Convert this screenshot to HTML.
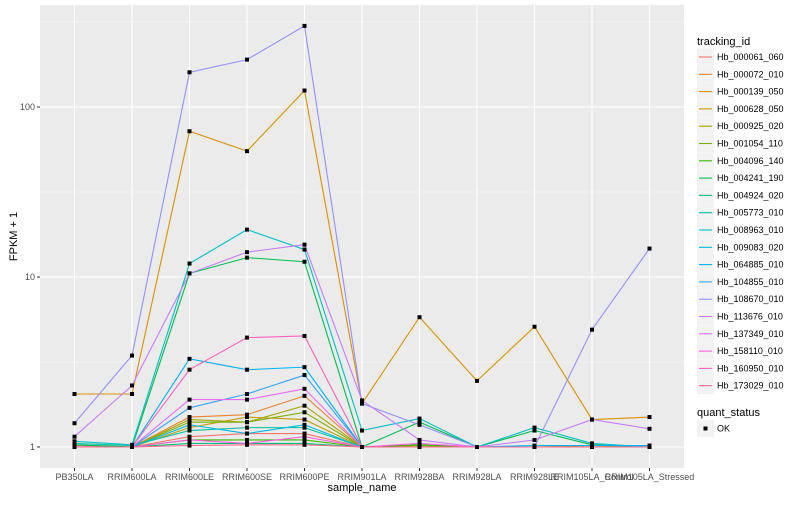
<!DOCTYPE html>
<html><head><meta charset="utf-8"><style>
body{margin:0;background:#fff;font-family:"Liberation Sans",sans-serif}
svg text{font-family:"Liberation Sans",sans-serif}
</style></head><body>
<svg id="c" width="800" height="500" xmlns="http://www.w3.org/2000/svg"></svg>
<script>
const categories=["PB350LA","RRIM600LA","RRIM600LE","RRIM600SE","RRIM600PE","RRIM901LA","RRIM928BA","RRIM928LA","RRIM928LE","RRIM105LA_Control","RRIM105LA_Stressed"];
const seriesNames=["Hb_000061_060","Hb_000072_010","Hb_000139_050","Hb_000628_050","Hb_000925_020","Hb_001054_110","Hb_004096_140","Hb_004241_190","Hb_004924_020","Hb_005773_010","Hb_008963_010","Hb_009083_020","Hb_064885_010","Hb_104855_010","Hb_108670_010","Hb_113676_010","Hb_137349_010","Hb_158110_010","Hb_160950_010","Hb_173029_010"];
const seriesColors=["#F8766D","#EA8331","#D89000","#C09B00","#A3A500","#7CAE00","#39B600","#00BB4E","#00BF7D","#00C1A3","#00BFC4","#00BAE0","#00B0F6","#35A2FF","#9590FF","#C77CFF","#E76BF3","#FA62DB","#FF62BC","#FF6C90"];
const s000061=[1.02,1.0,1.15,1.2,1.2,1.0,1.0,1.0,1.0,1.0,1.0];
const s000072=[1.0,1.0,1.5,1.55,2.0,1.0,1.02,1.0,1.0,1.0,1.0];
const s000139=[2.05,2.05,72,55,125,1.8,5.8,2.45,5.1,1.45,1.5];
const s000628=[1.0,1.0,1.3,1.5,1.45,1.0,1.0,1.0,1.0,1.02,1.0];
const s000925=[1.0,1.0,1.45,1.4,1.75,1.0,1.0,1.0,1.0,1.0,1.0];
const s001054=[1.0,1.0,1.4,1.4,1.6,1.0,1.02,1.0,1.0,1.0,1.0];
const s004096=[1.0,1.0,1.1,1.1,1.1,1.0,1.03,1.0,1.0,1.0,1.0];
const s004241=[1.03,1.0,10.5,13,12.3,1.0,1.4,1.0,1.25,1.03,1.0];
const s004924=[1.0,1.0,1.05,1.05,1.05,1.0,1.0,1.0,1.0,1.0,1.0];
const s005773=[1.05,1.02,1.25,1.3,1.3,1.0,1.0,1.0,1.0,1.0,1.0];
const s008963=[1.08,1.03,12,19,14.5,1.25,1.47,1.0,1.3,1.05,1.0];
const s009083=[1.0,1.0,1.35,1.2,1.35,1.0,1.0,1.0,1.0,1.0,1.0];
const s064885=[1.0,1.0,3.3,2.85,2.95,1.0,1.0,1.0,1.02,1.02,1.02];
const s104855=[1.0,1.0,1.7,2.05,2.65,1.0,1.0,1.0,1.0,1.0,1.0];
const s108670=[1.38,3.45,160,190,300,1.8,1.35,1.0,1.0,4.9,14.7];
const s113676=[1.15,2.3,10.5,14,15.5,1.88,1.1,1.0,1.1,1.45,1.28];
const s137349=[1.0,1.0,1.9,1.9,2.2,1.0,1.0,1.0,1.0,1.0,1.0];
const s158110=[1.0,1.0,1.1,1.05,1.15,1.0,1.05,1.0,1.0,1.0,1.0];
const s160950=[1.0,1.0,2.85,4.4,4.5,1.0,1.0,1.0,1.0,1.0,1.0];
const s173029=[1.0,1.0,1.02,1.03,1.03,1.0,1.0,1.0,1.0,1.0,1.0];
const seriesValues=[s000061,s000072,s000139,s000628,s000925,s001054,s004096,s004241,s004924,s005773,s008963,s009083,s064885,s104855,s108670,s113676,s137349,s158110,s160950,s173029];
const yTicks=[1,10,100];
const yTickLabels=["1","10","100"];

const NS="http://www.w3.org/2000/svg";
const svg=document.getElementById('c');
const L=40,R=684,T=5,B=468;
const step=(R-L)/(categories.length-1+1.2);
function xs(i){return L+step*(0.6+i);}
function ys(v){return 447-Math.log10(v)*170;}
function mk(tag,attrs,parent){const e=document.createElementNS(NS,tag);for(const k in attrs)e.setAttribute(k,attrs[k]);(parent||svg).appendChild(e);return e;}

const panel=mk('rect',{x:L,y:T,width:R-L,height:B-T,fill:'#EBEBEB'});


// minor grid
for(let k=0;k<yTicks.length;k++){
  const v=Math.sqrt(10)*yTicks[k];
  const y=ys(v);
  if(y>T){const g=mk('line',{x1:L,x2:R,y1:y,y2:y,stroke:'#F5F5F5','stroke-width':0.6});
  
  }
}
yTicks.forEach((v,k)=>{
  const y=ys(v);
  const g=mk('line',{x1:L,x2:R,y1:y,y2:y,stroke:'#fff','stroke-width':1.1});
  
  
  const t=mk('line',{x1:L-3,x2:L,y1:y,y2:y,stroke:'#333','stroke-width':1});
  
  
  const lb=mk('text',{x:L-5,y:y+3,'text-anchor':'end','font-size':9,fill:'#4D4D4D'});
  lb.textContent=yTickLabels[k];
  
  
});
categories.forEach((c,i)=>{
  const x=xs(i);
  const g=mk('line',{x1:x,x2:x,y1:T,y2:B,stroke:'#fff','stroke-width':1.1});
  
  
  const t=mk('line',{x1:x,x2:x,y1:B,y2:B+3,stroke:'#333','stroke-width':1});
  
  
  const lb=mk('text',{x:x,y:B+12,'text-anchor':'middle','font-size':9,fill:'#4D4D4D'});
  lb.textContent=c;
  
  
});
seriesValues.forEach((vals,s)=>{
  const p=mk('polyline',{points:vals.map((v,i)=>xs(i)+','+ys(v)).join(' '),fill:'none',stroke:seriesColors[s],'stroke-width':1.1});
  
  
});
seriesValues.forEach((vals,s)=>{
  vals.forEach((v,i)=>{
    const r=mk('rect',{x:xs(i)-2,y:ys(v)-2,width:4,height:4,fill:'#000'});
    
    
  });
});
const xt=mk('text',{x:(L+R)/2,y:491,'text-anchor':'middle','font-size':11,fill:'#000'});
xt.textContent='sample_name';


const yt=mk('text',{x:17,y:(T+B)/2,'text-anchor':'middle','font-size':11,fill:'#000',transform:'rotate(-90 17 '+((T+B)/2)+')'});
yt.textContent='FPKM + 1';


// legend
const lt=mk('text',{x:697,y:45,'font-size':11,fill:'#000'});
lt.textContent='tracking_id';


seriesNames.forEach((n,s)=>{
  const cy=57+s*17.3;
  const g=mk('g',{});
  
  
  mk('rect',{x:697,y:cy-8.5,width:17,height:17,fill:'#F2F2F2'},g);
  mk('line',{x1:699,x2:712,y1:cy,y2:cy,stroke:seriesColors[s],'stroke-width':1.1},g);
  const t=mk('text',{x:717,y:cy+3,'font-size':9,fill:'#000'},g);
  t.textContent=n;
});
const qt=mk('text',{x:697,y:416,'font-size':11,fill:'#000'});
qt.textContent='quant_status';


const qg=mk('g',{});


mk('rect',{x:697,y:420,width:17,height:17,fill:'#F2F2F2'},qg);
mk('rect',{x:703.5,y:426.5,width:4,height:4,fill:'#000'},qg);
const okt=mk('text',{x:717,y:431.5,'font-size':9,fill:'#000'},qg);
okt.textContent='OK';
</script>
</body></html>
